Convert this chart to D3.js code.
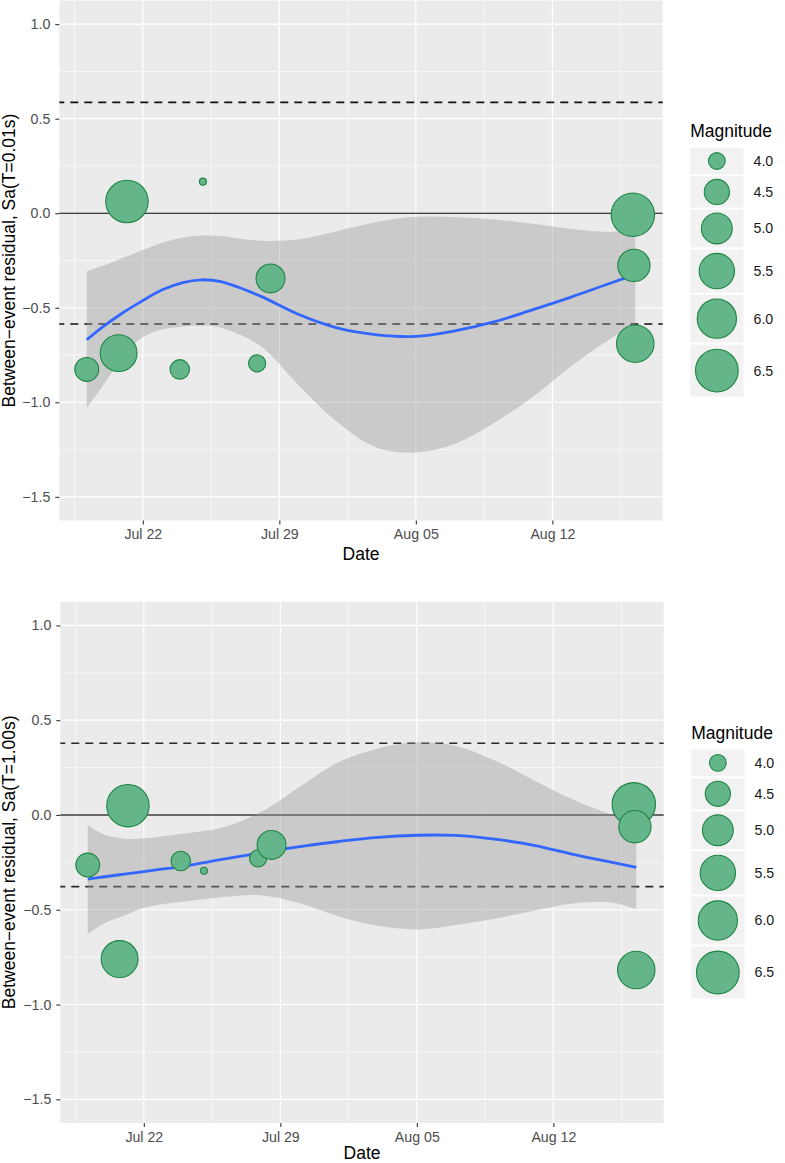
<!DOCTYPE html>
<html><head><meta charset="utf-8">
<script src="https://cdn.jsdelivr.net/npm/d3@7"></script>
<style>
body{margin:0;background:#fff;}
svg{display:block;font-family:"Liberation Sans",Arial,Helvetica,sans-serif;}
</style>
</head><body>
<svg id="chart" width="785" height="1163"></svg>
<script>
// ---------------- data ----------------
const eventDates = ["2019-07-19 03:00","2019-07-20 18:15","2019-07-21 04:30","2019-07-23 21:30","2019-07-25 02:00",
                    "2019-07-27 20:40","2019-07-28 13:10","2019-08-16 03:00","2019-08-16 04:20","2019-08-16 06:00"];
const magnitudes = [4.4, 5.68, 6.45, 4.13, 3.8, 4.02, 4.81, 6.6, 5.15, 5.76];
const residualsT001 = [-0.826, -0.740, 0.062, -0.826, 0.167, -0.794, -0.345, -0.008, -0.276, -0.690];
const residualsT100 = [-0.264, -0.760, 0.049, -0.243, -0.294, -0.229, -0.158, 0.056, -0.062, -0.818];

const smoothDates = ["2019-07-19 03:00","2019-07-20 00:00","2019-07-21 00:00","2019-07-22 00:00","2019-07-23 00:00",
                     "2019-07-24 00:00","2019-07-25 00:00","2019-07-26 00:00","2019-07-28 00:00","2019-07-30 00:00",
                     "2019-08-01 00:00","2019-08-03 00:00","2019-08-05 00:00","2019-08-07 00:00","2019-08-09 00:00",
                     "2019-08-11 00:00","2019-08-13 00:00","2019-08-15 00:00","2019-08-16 06:00"];
const fitT001   = [-0.669,-0.597,-0.525,-0.462,-0.405,-0.368,-0.352,-0.362,-0.437,-0.536,-0.608,-0.643,-0.651,-0.622,-0.575,-0.510,-0.442,-0.369,-0.325];
const upperT001 = [-0.308,-0.277,-0.236,-0.195,-0.156,-0.130,-0.118,-0.122,-0.145,-0.138,-0.094,-0.047,-0.019,-0.020,-0.033,-0.056,-0.084,-0.099,-0.085];
const lowerT001 = [-1.030,-0.906,-0.755,-0.655,-0.615,-0.600,-0.594,-0.605,-0.700,-0.911,-1.107,-1.240,-1.265,-1.220,-1.110,-0.970,-0.806,-0.663,-0.583];
const fitT100   = [-0.338,-0.326,-0.312,-0.299,-0.285,-0.272,-0.253,-0.234,-0.200,-0.167,-0.140,-0.118,-0.107,-0.108,-0.128,-0.160,-0.208,-0.250,-0.276];
const upperT100 = [-0.053,-0.105,-0.125,-0.123,-0.112,-0.099,-0.086,-0.068,0.015,0.149,0.279,0.351,0.383,0.364,0.287,0.183,0.081,0.001,-0.040];
const lowerT100 = [-0.628,-0.570,-0.530,-0.491,-0.470,-0.458,-0.445,-0.434,-0.424,-0.466,-0.535,-0.585,-0.604,-0.580,-0.547,-0.505,-0.467,-0.462,-0.498];

const tauT001 = 0.586;
const tauT100 = 0.378;
const yLimits = [-1.5, 1.0];
const yTicks = [-1.5, -1.0, -0.5, 0.0, 0.5, 1.0];
const xTickDates = ["2019-07-22 00:00","2019-07-29 00:00","2019-08-05 00:00","2019-08-12 00:00"];
const legendMagnitudes = [4.0, 4.5, 5.0, 5.5, 6.0, 6.5];

// ---------------- setup ----------------
const parse = d3.timeParse("%Y-%m-%d %H:%M");
const dates = eventDates.map(parse);
const sDates = smoothDates.map(parse);
const xTicks = xTickDates.map(parse);

const svg = d3.select("#chart");

const magExt = d3.extent(magnitudes);
const tMag = d3.scaleLinear().domain(magExt).range([0, 1]).clamp(true);
const rLin = d3.scaleLinear().domain([0, 1]).range([3.5, 21.7]);
const rOf = m => rLin(Math.sqrt(tMag(m)));

const panels = [
  {top: 0.5, bottom: 520.5, left: 59.3, right: 662.7,
   ylab: "Between\u2212event residual, Sa(T=0.01s)", res: residualsT001,
   fit: fitT001, lo: lowerT001, hi: upperT001, tau: tauT001,
   zeroCol: "#000", zeroW: 1.2, dashCol: "#111"},
  {top: 601.7, bottom: 1123, left: 60.3, right: 663.7,
   ylab: "Between\u2212event residual, Sa(T=1.00s)", res: residualsT100,
   fit: fitT100, lo: lowerT100, hi: upperT100, tau: tauT100,
   zeroCol: "#3a3a3a", zeroW: 1.5, dashCol: "#2a2a2a"}
];

const dExt = d3.extent(dates);
const span = dExt[1] - dExt[0];
const xDomain = [new Date(+dExt[0] - 0.05 * span), new Date(+dExt[1] + 0.05 * span)];
const yPad = 0.05 * (yLimits[1] - yLimits[0]);
const yDomain = [yLimits[0] - yPad, yLimits[1] + yPad];
const smoothCurve = d3.curveCatmullRom.alpha(0.5);

panels.forEach(p => {
  const x = d3.scaleTime().domain(xDomain).range([p.left, p.right]);
  const y = d3.scaleLinear().domain(yDomain).range([p.bottom, p.top]);
  const g = svg.append("g");

  g.append("rect").attr("x", p.left).attr("y", p.top)
    .attr("width", p.right - p.left).attr("height", p.bottom - p.top).attr("fill", "#EBEBEB");

  // minor grid
  const yMinor = d3.range(yTicks.length - 1).map(i => (yTicks[i] + yTicks[i + 1]) / 2);
  const step = xTicks[1] - xTicks[0];
  const xMinor = [new Date(+xTicks[0] - step / 2)];
  for (let i = 0; i < xTicks.length; i++) xMinor.push(new Date(+xTicks[i] + step / 2));
  g.selectAll(".ymin").data(yMinor).join("line")
    .attr("x1", p.left).attr("x2", p.right).attr("y1", d => y(d)).attr("y2", d => y(d))
    .attr("stroke", "#fff").attr("stroke-width", 0.6);
  g.selectAll(".xmin").data(xMinor.filter(d => d >= xDomain[0] && d <= xDomain[1])).join("line")
    .attr("y1", p.top).attr("y2", p.bottom).attr("x1", d => x(d)).attr("x2", d => x(d))
    .attr("stroke", "#fff").attr("stroke-width", 0.6);
  // major grid
  g.selectAll(".ymaj").data(yTicks).join("line")
    .attr("x1", p.left).attr("x2", p.right).attr("y1", d => y(d)).attr("y2", d => y(d))
    .attr("stroke", "#fff").attr("stroke-width", 1.2);
  g.selectAll(".xmaj").data(xTicks).join("line")
    .attr("y1", p.top).attr("y2", p.bottom).attr("x1", d => x(d)).attr("x2", d => x(d))
    .attr("stroke", "#fff").attr("stroke-width", 1.2);

  // reference lines
  [p.tau, -p.tau].forEach(v => {
    g.append("line").attr("x1", p.left).attr("x2", p.right).attr("y1", y(v)).attr("y2", y(v))
      .attr("stroke", p.dashCol).attr("stroke-width", 1.6).attr("stroke-dasharray", "8,6")
      .attr("stroke-dashoffset", 3);
  });
  g.append("line").attr("x1", p.left).attr("x2", p.right).attr("y1", y(0)).attr("y2", y(0))
    .attr("stroke", p.zeroCol).attr("stroke-width", p.zeroW);

  // smooth ribbon + line
  const sm = sDates.map((d, i) => ({d, f: p.fit[i], lo: p.lo[i], hi: p.hi[i]}));
  g.append("path").datum(sm)
    .attr("d", d3.area().x(d => x(d.d)).y0(d => y(d.lo)).y1(d => y(d.hi)).curve(smoothCurve))
    .attr("fill", "#999999").attr("fill-opacity", 0.4);
  g.append("path").datum(sm)
    .attr("d", d3.line().x(d => x(d.d)).y(d => y(d.f)).curve(smoothCurve))
    .attr("fill", "none").attr("stroke", "#3366FF").attr("stroke-width", 2.8);

  // points
  const pts = dates.map((d, i) => ({d, v: p.res[i], m: magnitudes[i]}));
  g.selectAll(".pt").data(pts).join("circle")
    .attr("cx", d => x(d.d)).attr("cy", d => y(d.v)).attr("r", d => rOf(d.m))
    .attr("fill", "#64B68A").attr("stroke", "#1E8442").attr("stroke-width", 1.1);

  // axes
  const ax = g.append("g").attr("transform", `translate(${p.left},0)`)
    .call(d3.axisLeft(y).tickValues(yTicks).tickSize(4).tickPadding(5).tickFormat(d3.format(".1f")));
  const bx = g.append("g").attr("transform", `translate(0,${p.bottom})`)
    .call(d3.axisBottom(x).tickValues(xTicks).tickSize(4).tickPadding(4.5).tickFormat(d3.timeFormat("%b %d")));
  [ax, bx].forEach(a => {
    a.select(".domain").remove();
    a.selectAll(".tick line").attr("stroke", "#333").attr("stroke-width", 1.1);
    a.selectAll(".tick text").attr("fill", "#4D4D4D").style("font-size", "14.2px")
      .style("font-family", "'Liberation Sans',Arial,sans-serif");
  });

  // axis titles
  const cy = (p.top + p.bottom) / 2;
  g.append("text").attr("transform", `translate(15,${cy}) rotate(-90)`)
    .attr("text-anchor", "middle").style("font-size", "17.5px").attr("fill", "#000").text(p.ylab);
  g.append("text").attr("x", (p.left + p.right) / 2).attr("y", Math.min(p.bottom + 39.5, 1158.5))
    .attr("text-anchor", "middle").style("font-size", "17.5px").attr("fill", "#000").text("Date");

  // legend
  const keyW = 53.3, gap = 2, titleH = 23.3;
  const keys = legendMagnitudes.map(m => {
    const r = rOf(m);
    return {m, r, h: Math.max(26.7, 1.19 * (2 * r + 1))};
  });
  const keysTotal = d3.sum(keys, k => k.h) + gap * (keys.length - 1);
  const keysStart = cy - (titleH + keysTotal) / 2 + titleH;
  const lx = p.right + 27.5;
  g.append("text").attr("x", lx).attr("y", keysStart - 11)
    .style("font-size", "17.5px").attr("fill", "#000").text("Magnitude");
  let yy = keysStart;
  keys.forEach(k => {
    g.append("rect").attr("x", lx).attr("y", yy).attr("width", keyW).attr("height", k.h)
      .attr("fill", "#F2F2F2");
    g.append("circle").attr("cx", lx + keyW / 2).attr("cy", yy + k.h / 2).attr("r", k.r)
      .attr("fill", "#64B68A").attr("stroke", "#1E8442").attr("stroke-width", 1.1);
    g.append("text").attr("x", lx + 63.3).attr("y", yy + k.h / 2).attr("dy", "0.35em")
      .style("font-size", "14.2px").attr("fill", "#1a1a1a").text(d3.format(".1f")(k.m));
    yy += k.h + gap;
  });
});
</script>
</body></html>
